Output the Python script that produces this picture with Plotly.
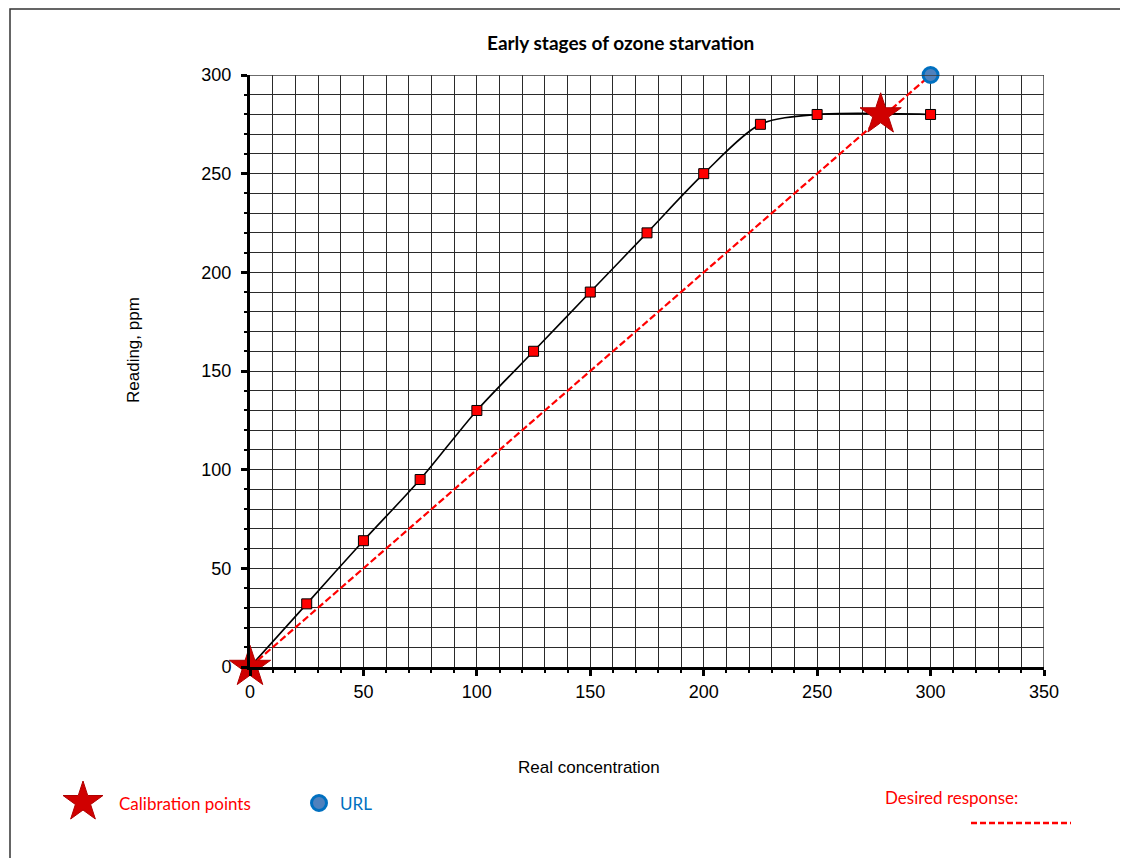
import plotly.graph_objects as go

# ---- data ----
real_conc = [0, 25, 50, 75, 100, 125, 150, 175, 200, 225, 250, 300]
reading = [0, 32, 64, 95, 130, 160, 190, 220, 250, 275, 280, 280]
desired_x = [0, 300]
desired_y = [0, 300]
calib_x = [0, 278]
calib_y = [0, 280]
url_x = [300]
url_y = [300]

W, H = 1128, 858
OFF = 8  # page body margin offset
PL, PR, PT, PB = 250 - OFF, 1044 - OFF, 75 - OFF, 667 - OFF  # plot area in figure pixels

fig = go.Figure()

# measured response (smoothed line)
fig.add_trace(go.Scatter(x=real_conc, y=reading, mode="lines",
                         line=dict(color="black", width=1.6, shape="spline", smoothing=0.8),
                         hoverinfo="skip", showlegend=False))
# desired response
fig.add_trace(go.Scatter(x=desired_x, y=desired_y, mode="lines",
                         line=dict(color="#FF0000", width=2.2, dash="7px,3px"),
                         showlegend=False))
# measured points
fig.add_trace(go.Scatter(x=real_conc[1:], y=reading[1:], mode="markers",
                         marker=dict(symbol="square", size=10, color="#FF0000",
                                     line=dict(color="black", width=1)),
                         showlegend=False))
# calibration points
fig.add_trace(go.Scatter(x=calib_x, y=calib_y, mode="markers", cliponaxis=False,
                         marker=dict(symbol="star", size=31, color="#D00000",
                                     line=dict(color="#B00000", width=1)),
                         showlegend=False))
# URL
fig.add_trace(go.Scatter(x=url_x, y=url_y, mode="markers", cliponaxis=False,
                         marker=dict(symbol="circle", size=15, color="#4F81BD",
                                     line=dict(color="#0070C0", width=3)),
                         showlegend=False))

# ---- legend-like decorations on a full-figure overlay axis (screen pixel units) ----
leg_star = ([83], [802])
leg_url = ([319], [803])
fig.add_trace(go.Scatter(x=leg_star[0], y=leg_star[1], xaxis="x2", yaxis="y2", mode="markers",
                         marker=dict(symbol="star", size=30, color="#D00000",
                                     line=dict(color="#B00000", width=1)),
                         showlegend=False))
fig.add_trace(go.Scatter(x=leg_url[0], y=leg_url[1], xaxis="x2", yaxis="y2", mode="markers",
                         marker=dict(symbol="circle", size=15, color="#4F81BD",
                                     line=dict(color="#0070C0", width=3)),
                         showlegend=False))

axis_common = dict(showline=True, linecolor="black", linewidth=3,
                   ticks="outside", ticklen=6, tickwidth=3, tickcolor="black",
                   showgrid=True, gridcolor="#2a2a2a", gridwidth=1,
                   zeroline=False, automargin=False,
                   tickfont=dict(family="Liberation Sans, Arial", size=18, color="black"),
                   minor=dict(dtick=10, ticks="outside", ticklen=3, tickwidth=2,
                              tickcolor="black", showgrid=True, gridcolor="#2a2a2a", gridwidth=1))

fig.update_layout(
    template="none",
    width=W, height=H,
    margin=dict(l=0, r=0, t=0, b=0, pad=0, autoexpand=False),
    paper_bgcolor="white", plot_bgcolor="rgba(0,0,0,0)",
    xaxis=dict(range=[0, 350], dtick=50, tick0=0,
               domain=[PL / W, PR / W], anchor="y", **axis_common),
    yaxis=dict(range=[0, 300], dtick=50, tick0=0, ticklabelstandoff=6,
               domain=[1 - PB / H, 1 - PT / H], anchor="x", **axis_common),
    xaxis2=dict(range=[OFF, W + OFF], domain=[0, 1], anchor="y2", visible=False,
                fixedrange=True, automargin=False),
    yaxis2=dict(range=[H + OFF, OFF], domain=[0, 1], anchor="x2", visible=False,
                fixedrange=True, automargin=False),
    showlegend=False,
)

# top/right edges of grid
fig.add_shape(type="line", xref="x", yref="y", x0=0, x1=350, y0=300, y1=300,
              line=dict(color="#3a3a3a", width=1.5))
fig.add_shape(type="line", xref="x", yref="y", x0=350, x1=350, y0=0, y1=300,
              line=dict(color="#3a3a3a", width=1.5))

# outer frame
fig.add_shape(type="rect", xref="x2", yref="y2", x0=10, x1=W + 30, y0=9, y1=H + 30,
              line=dict(color="#333333", width=1.5), layer="below")
# desired-response legend line
fig.add_shape(type="line", xref="x2", yref="y2", x0=971, x1=1071, y0=823, y1=823,
              line=dict(color="#FF0000", width=2.5, dash="6px,3px"))

ann = [
    dict(text="<b>Early stages of ozone starvation</b>", x=620, y=42,
         font=dict(family="Lato, Carlito, sans-serif", size=19, color="black")),
    dict(text="Real concentration", x=589, y=767,
         font=dict(family="Liberation Sans, Arial", size=17, color="black")),
    dict(text="Reading, ppm", x=133, y=350, textangle=-90,
         font=dict(family="Liberation Sans, Arial", size=17, color="black")),
    dict(text="Calibration points", x=117, y=803, xanchor="left",
         font=dict(family="Lato, Carlito, sans-serif", size=17, color="#FF0000")),
    dict(text="URL", x=338, y=803, xanchor="left",
         font=dict(family="Lato, Carlito, sans-serif", size=17, color="#0070C0")),
    dict(text="Desired response:", x=883, y=797, xanchor="left",
         font=dict(family="Lato, Carlito, sans-serif", size=17, color="#FF0000")),
]
for a in ann:
    a.setdefault("xanchor", "center")
    fig.add_annotation(xref="x2", yref="y2", showarrow=False, yanchor="middle", **a)

fig.write_html("out.html")
